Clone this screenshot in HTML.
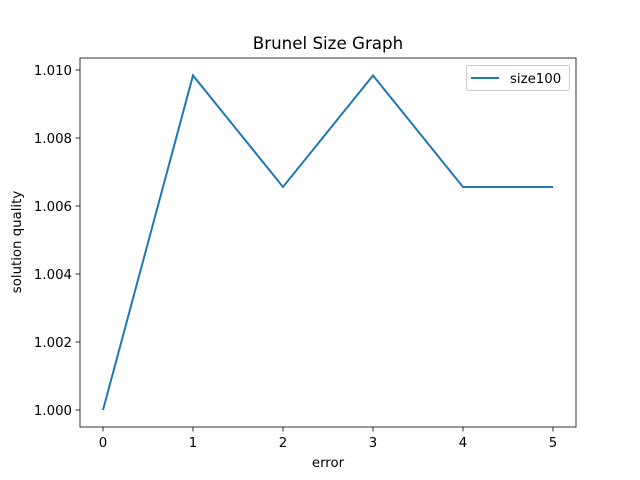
<!DOCTYPE html>
<html><head><meta charset="utf-8"><style>body{margin:0;background:#fff}svg{display:block;font-family:"DejaVu Sans","Liberation Sans",sans-serif}</style></head>
<body>
<svg id="c" width="640" height="480"></svg>
<script>
const xs=[0,1,2,3,4,5];
const ys=[1.0,1.00984,1.00656,1.00984,1.00656,1.00656];
const xticks=[0,1,2,3,4,5];
const yticks=[1.000,1.002,1.004,1.006,1.008,1.010];
const L=80,R=576,T=58,B=427;
const X=v=>103+v*90;
const Y=v=>410-(v-1.0)*34000;
const s=document.getElementById('c');
const NS='http://www.w3.org/2000/svg';
function el(t,a,txt){const e=document.createElementNS(NS,t);for(const k in a)e.setAttribute(k,a[k]);if(txt!==undefined)e.textContent=txt;s.appendChild(e);return e;}
let e;
e=el('text',{x:328,y:49,'text-anchor':'middle','font-size':16.7},'Brunel Size Graph');


xticks.forEach(v=>{
e=el('line',{x1:X(v),x2:X(v),y1:B,y2:B+4.5,stroke:'#000','stroke-width':0.8});


e=el('text',{x:X(v),y:B+20,'text-anchor':'middle','font-size':13.3},String(v));


});
yticks.forEach(v=>{
e=el('line',{x1:L-4.5,x2:L,y1:Y(v),y2:Y(v),stroke:'#000','stroke-width':0.8});


e=el('text',{x:L-8,y:Y(v)+5,'text-anchor':'end','font-size':13.3},v.toFixed(3));


});
e=el('polyline',{points:xs.map((x,i)=>X(x)+','+Y(ys[i])).join(' '),fill:'none',stroke:'#1f77b4','stroke-width':2});


e=el('rect',{x:L,y:T,width:R-L,height:B-T,fill:'none',stroke:'#000','stroke-width':0.8});


e=el('text',{x:328,y:467,'text-anchor':'middle','font-size':13.3},'error');


e=el('text',{x:21,y:242,'text-anchor':'middle','font-size':13.3,transform:'rotate(-90 21 242)'},'solution quality');


e=el('rect',{x:466.5,y:65.5,width:103,height:25,rx:2,fill:'#fff',stroke:'#ccc','stroke-width':1});


e=el('line',{x1:471,x2:499,y1:78,y2:78,stroke:'#1f77b4','stroke-width':2});


e=el('text',{x:510,y:83,'font-size':13.3},'size100');


</script>
</body></html>
